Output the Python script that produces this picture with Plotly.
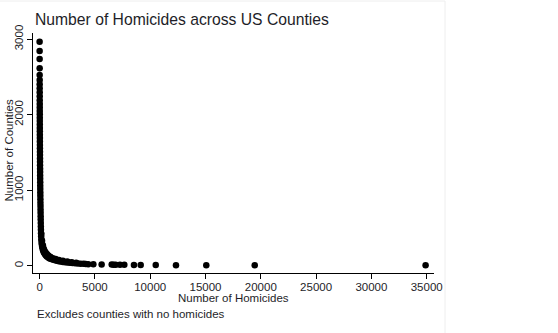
import plotly.graph_objects as go

# Number of homicides (x) and number of counties (y)
homicides = [1, 2, 3, 4, 5, 6, 7, 8, 9, 10, 11, 12, 13, 14, 15, 16, 17, 18, 19, 20,
             22, 24, 26, 28, 30, 32, 34, 36, 38, 40, 43, 46, 49, 52, 55, 58, 61, 64, 68, 72,
             76, 80, 85, 90, 95, 100, 106, 112, 120, 130, 142, 158, 178, 200, 230, 265, 310,
             360, 420, 490, 570, 660, 760, 870, 990, 1120, 1260, 1410, 1570, 1740, 1920,
             2110, 2310, 2520, 2740, 2970, 3210, 3460, 3720, 3990, 4170, 4400, 4860, 5610,
             6520, 6700, 6880, 7270, 7660, 8530, 9140, 10500, 12330, 15070, 19450, 34900,
             150, 220, 300, 380, 460, 560, 680, 820, 1000, 1200, 1450, 1750, 2100, 2500,
             2900, 3300]
counties = [2967, 2844, 2738, 2614, 2526, 2460, 2402, 2350, 2297, 2244, 2190, 2140, 2095,
            2050, 2005, 1960, 1915, 1870, 1825, 1780, 1735, 1690, 1645, 1600, 1555, 1510,
            1465, 1420, 1375, 1330, 1285, 1240, 1195, 1150, 1105, 1060, 1015, 970, 925, 880,
            835, 790, 745, 700, 655, 610, 565, 520, 475, 430, 390, 350, 315, 285, 255, 230,
            205, 185, 165, 150, 135, 122, 110, 100, 92, 85, 78, 72, 66, 60, 55, 50, 46, 42,
            38, 35, 32, 29, 26, 24, 22, 20, 18, 16, 14, 13, 13, 12, 11, 10, 9, 8, 7, 6, 5, 4,
            420, 330, 270, 225, 195, 170, 150, 130, 115, 100, 88, 76, 64, 54, 45, 38]

x_ticks = [0, 5000, 10000, 15000, 20000, 25000, 30000, 35000]
y_ticks = [0, 1000, 2000, 3000]

FONT = "Arial, Liberation Sans, sans-serif"
TXT = "#1e1e28"

fig = go.Figure(go.Scatter(
    x=homicides, y=counties, mode="markers",
    marker=dict(color="black", size=6.5, line=dict(width=0)),
    hoverinfo="skip",
))

fig.update_layout(
    width=558, height=333,
    margin=dict(l=33, r=124, t=33, b=60),
    paper_bgcolor="white", plot_bgcolor="white",
    showlegend=False,
    font=dict(family=FONT, size=11.5, color=TXT),
    xaxis=dict(range=[-597, 35660], tickvals=x_ticks, ticktext=[str(v) for v in x_ticks],
               showgrid=False, zeroline=False, showline=True, linecolor="black",
               linewidth=1, ticks="outside", ticklen=5, tickcolor="black",
               ticklabelstandoff=-2,
               tickfont=dict(size=11.5, color=TXT)),
    yaxis=dict(range=[-97, 3082], tickvals=y_ticks, ticktext=[str(v) for v in y_ticks],
               showgrid=False, zeroline=False, showline=True, linecolor="black",
               linewidth=1, ticks="outside", ticklen=5, tickcolor="black",
               ticklabelstandoff=-1,
               tickangle=-90, tickfont=dict(size=11.5, color=TXT)),
    annotations=[
        dict(text="Number of Homicides across US Counties", xref="paper", yref="paper",
             x=(33 - 33) / 401, y=(273 - 20) / 240, xanchor="left", yanchor="middle",
             showarrow=False, font=dict(size=15.7, color=TXT, family=FONT)),
        dict(text="Number of Homicides", xref="paper", yref="paper",
             x=0.5, y=(273 - 298) / 240, xanchor="center", yanchor="middle",
             showarrow=False, font=dict(size=11.5, color=TXT, family=FONT)),
        dict(text="Number of Counties", xref="paper", yref="paper",
             x=(8.5 - 33) / 401, y=(273 - 150) / 240, xanchor="center", yanchor="middle",
             textangle=-90, showarrow=False, font=dict(size=11.5, color=TXT, family=FONT)),
        dict(text="Excludes counties with no homicides", xref="paper", yref="paper",
             x=(35 - 33) / 401, y=(273 - 314) / 240, xanchor="left", yanchor="middle",
             showarrow=False, font=dict(size=11.5, color=TXT, family=FONT)),
    ],
    shapes=[
        dict(type="line", xref="paper", yref="paper",
             x0=(445 - 33) / 401, x1=(445 - 33) / 401,
             y0=(273 - 1) / 240, y1=(273 - 333) / 240,
             line=dict(color="#eeeeee", width=1)),
        dict(type="line", xref="paper", yref="paper",
             x0=(0 - 33) / 401, x1=(445 - 33) / 401,
             y0=(273 - 1) / 240, y1=(273 - 1) / 240,
             line=dict(color="#eeeeee", width=1)),
    ],
)

fig.write_html("out.html")
